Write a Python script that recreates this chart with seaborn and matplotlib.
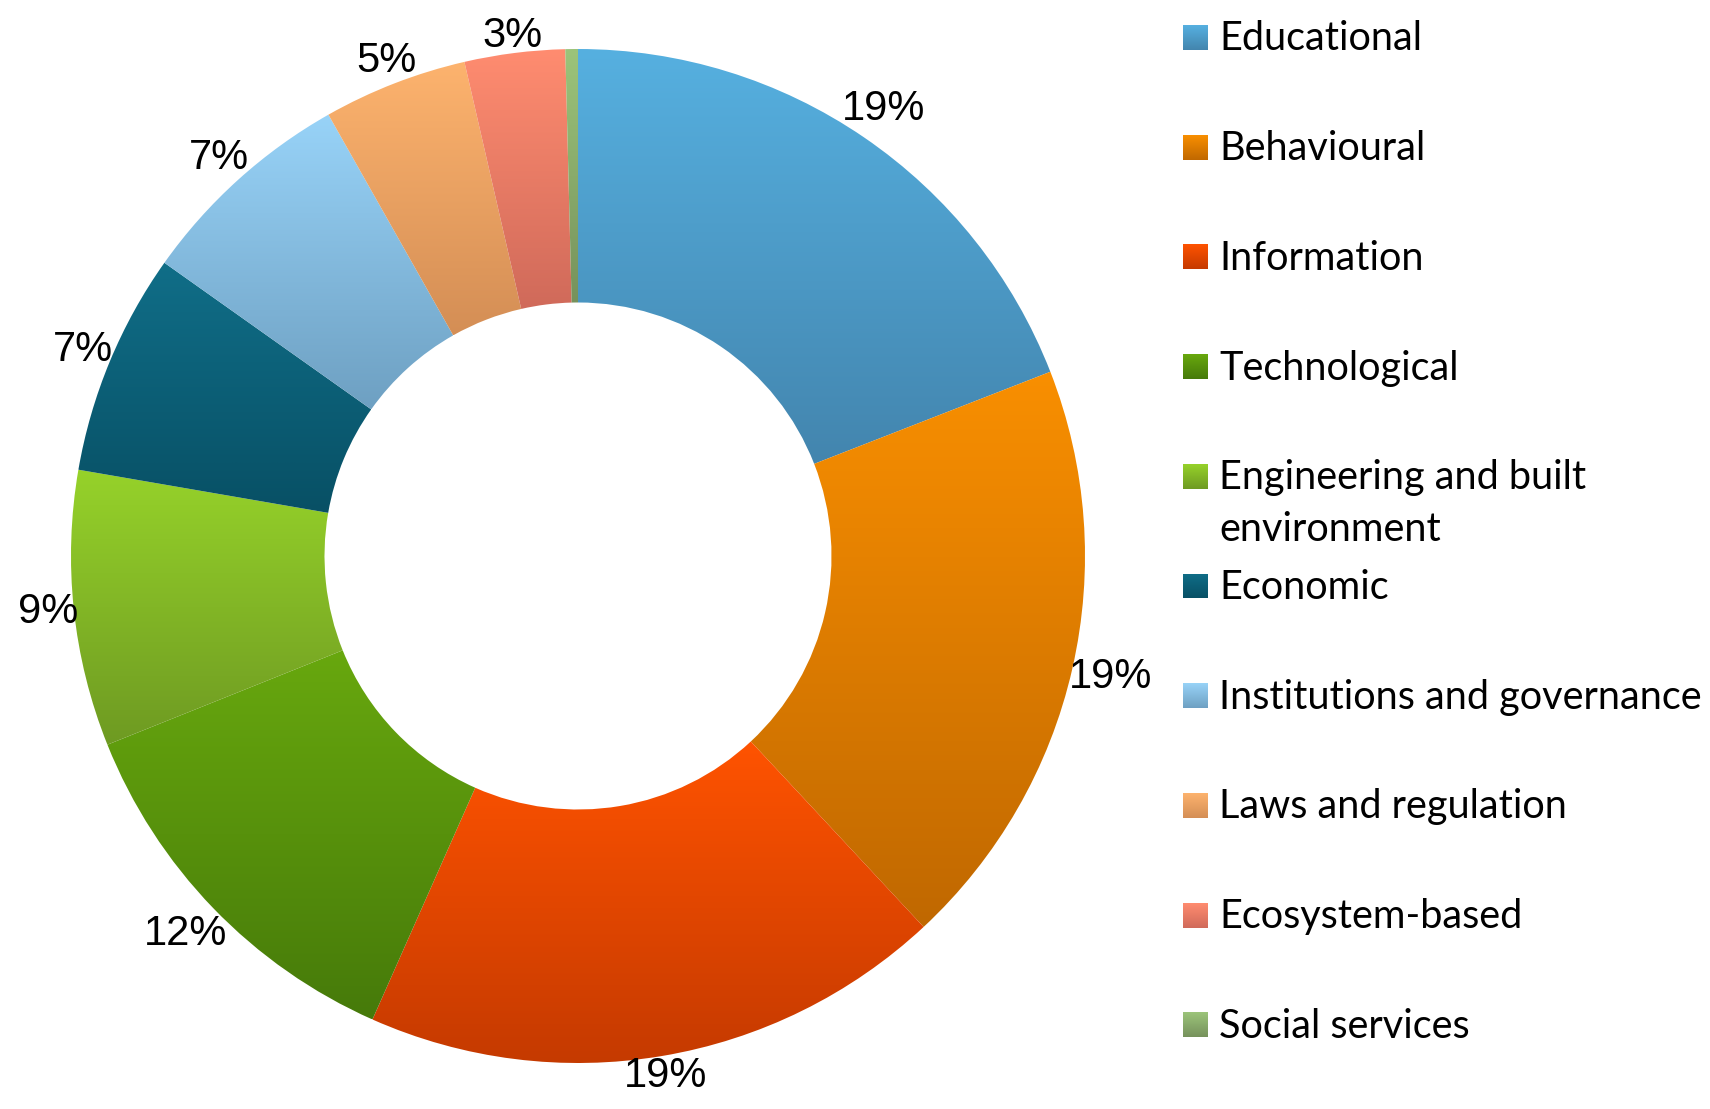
import numpy as np
import matplotlib
matplotlib.use("Agg")
import matplotlib.pyplot as plt
import matplotlib.patches as mpatches
import seaborn as sns

# data (share of measures, %)
categories = [
    "Educational",
    "Behavioural",
    "Information",
    "Technological",
    "Engineering and built\nenvironment",
    "Economic",
    "Institutions and governance",
    "Laws and regulation",
    "Ecosystem-based",
    "Social services",
]
shares = [19.1, 19.0, 18.6, 12.3, 8.8, 7.1, 7.0, 4.6, 3.2, 0.4]
pct_labels = ["19%", "19%", "19%", "12%", "9%", "7%", "7%", "5%", "3%", ""]

# (top, bottom) colour of the vertical gradient in each slice
colours_top = ["#56B0E0", "#F98F00", "#FF5300", "#68A80E", "#96D22A",
               "#106E88", "#98D3F8", "#FDB36E", "#FF8C70", "#9CC47A"]
colours_bot = ["#4385AE", "#C06800", "#C53A00", "#467A0A", "#6E9A22",
               "#085065", "#6EA0C2", "#D48E55", "#D06A5A", "#76925C"]

sns.set_theme(style="white")
plt.rcParams["font.family"] = ["Liberation Sans", "DejaVu Sans"]

W, H = 1710, 1109
fig = plt.figure(figsize=(W / 100, H / 100), dpi=100)
fig.patch.set_facecolor("white")

grad = np.linspace(0, 1, 256).reshape(-1, 1)


def gradient_fill(ax, patch, top, bot, extent):
    cmap = sns.blend_palette([top, bot], n_colors=256, as_cmap=True)
    im = ax.imshow(grad, cmap=cmap, extent=extent, origin="upper",
                   aspect="auto", interpolation="bilinear", zorder=patch.get_zorder())
    im.set_clip_path(patch)


# donut
cx, cy, r = 578, 556, 507
ax = fig.add_axes([(cx - r) / W, (H - cy - r) / H, 2 * r / W, 2 * r / H])
wedges, texts = ax.pie(
    shares,
    labels=pct_labels,
    startangle=90,
    counterclock=False,
    radius=1.0,
    labeldistance=1.06,
    wedgeprops=dict(width=0.5, linewidth=0),
    textprops=dict(fontsize=30, color="black"),
)
ax.set_xlim(-1, 1)
ax.set_ylim(-1, 1)
ax.set_aspect("equal")
ax.axis("off")

renderer = fig.canvas.get_renderer()
px = r  # pixels per data unit
for w, t, c0, c1 in zip(wedges, texts, colours_top, colours_bot):
    w.set_facecolor("none")
    ext = w.get_path().get_extents()
    gradient_fill(ax, w, c0, c1, (ext.x0, ext.x1, ext.y0, ext.y1))
    # put the label just outside the ring, its box touching the edge
    t.set_horizontalalignment("center")
    t.set_verticalalignment("center")
    bb = t.get_window_extent(renderer)
    ang = np.deg2rad((w.theta1 + w.theta2) / 2)
    ux, uy = np.cos(ang), np.sin(ang)
    d = abs(ux) * bb.width / 2 / px + abs(uy) * bb.height / 2 / px - 0.012
    t.set_position(((1 + d) * ux, (1 + d) * uy))

# legend drawn by hand so the two-line entry keeps the row spacing
lg = fig.add_axes([0, 0, 1, 1], zorder=-1)
lg.set_xlim(0, W)
lg.set_ylim(H, 0)
lg.axis("off")
row0, step, sq = 37.5, 109.7, 25
for i, (name, c0, c1) in enumerate(zip(categories, colours_top, colours_bot)):
    yc = row0 + step * i
    box = mpatches.Rectangle((1183, yc - sq / 2), sq, sq, facecolor="none", edgecolor="none")
    lg.add_patch(box)
    cmap = sns.blend_palette([c0, c1], n_colors=256, as_cmap=True)
    im = lg.imshow(grad, cmap=cmap, extent=(1183, 1183 + sq, yc + sq / 2, yc - sq / 2),
                   origin="upper", aspect="auto")
    im.set_clip_path(box)
    for k, line in enumerate(name.split("\n")):
        lg.text(1219, yc + 13 + 52 * k, line, fontsize=28.5, va="baseline", ha="left",
                family=["Lato", "DejaVu Sans"], color="black")
lg.set_xlim(0, W)
lg.set_ylim(H, 0)

fig.savefig("out.png", dpi=100, facecolor="white")
